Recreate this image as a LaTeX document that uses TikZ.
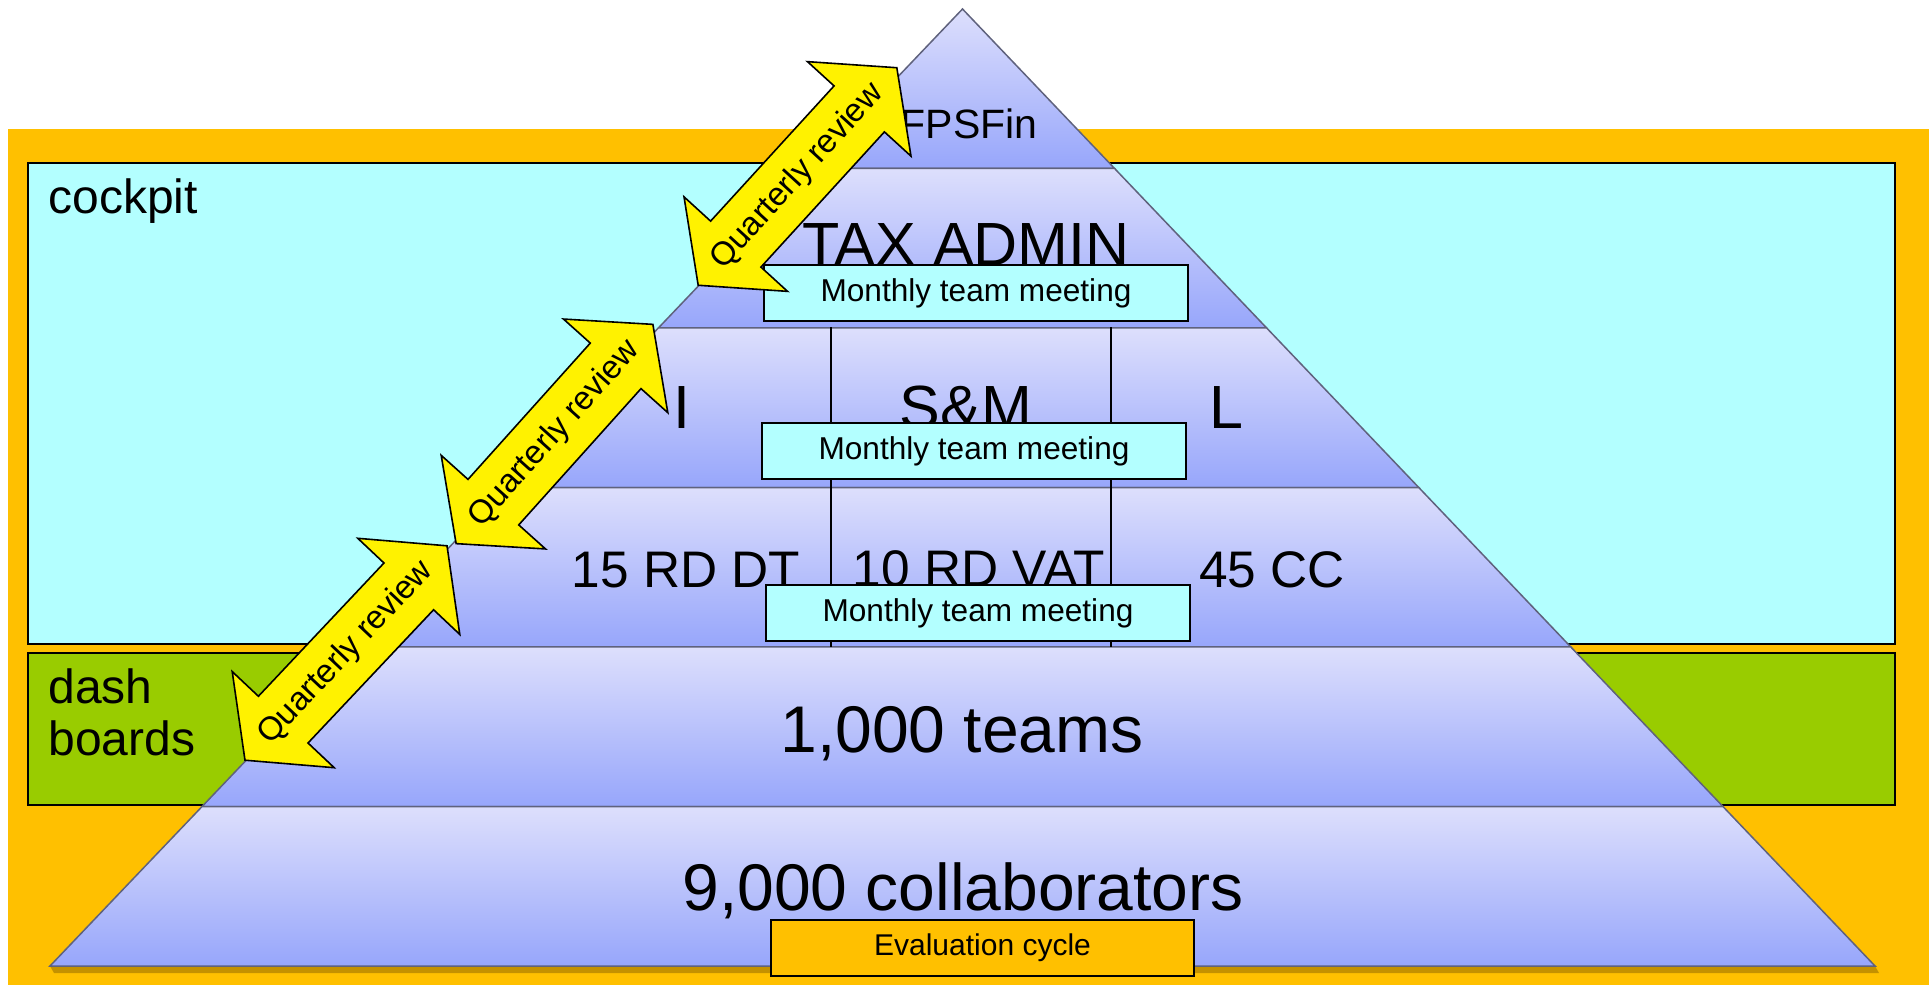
\documentclass[tikz,border=0pt]{standalone}
\usepackage{fontspec}
\setmainfont{Liberation Sans}
\usetikzlibrary{calc,shapes.arrows}

\definecolor{fondorange}{RGB}{255,192,0}
\definecolor{cockpitcyan}{RGB}{179,255,255}
\definecolor{dashvert}{RGB}{153,204,0}
\definecolor{pyrhaut}{RGB}{221,223,252}
\definecolor{pyrbas}{RGB}{151,166,251}
\definecolor{pyrbord}{RGB}{95,98,125}
\definecolor{ombre}{RGB}{196,145,0}

\begin{document}
\begin{tikzpicture}[x=0.5pt,y=-0.5pt,
	reunion/.style={draw,line width=1pt,fill=cockpitcyan,minimum width=212pt,minimum height=28pt,inner sep=0pt,font=\fontsize{15.8}{18}\selectfont},
	revue/.style={shape=double arrow,draw,line width=0.8pt,fill=yellow,minimum width=69.5pt,double arrow head extend=18pt,double arrow tip angle=103,inner xsep=0pt,inner ysep=9pt,font=\fontsize{16.4}{19}\selectfont},
	grand/.style={anchor=base,font=\fontsize{30.5}{34}\selectfont},
	moyen/.style={anchor=base,font=\fontsize{25.7}{30}\selectfont},
	enorme/.style={anchor=base,font=\fontsize{33}{38}\selectfont}]

\useasboundingbox (0,0) rectangle (1932,985);

\fill[fondorange] (8,129) rectangle (1929,985);
\draw[line width=1pt,fill=cockpitcyan] (28,163) rectangle (1895,644);
\draw[line width=1pt,fill=dashvert] (28,653) rectangle (1895,805);

\coordinate (sommet) at (962.5,9);
\coordinate (basg) at (50,966);
\coordinate (basd) at (1875,966);

\fill[ombre] (basg) -- (basd) -- (1879,973) -- (54,973) -- cycle;

\foreach \i [evaluate=\i as \ta using \i/6, evaluate=\i as \tb using (\i+1)/6] in {0,...,5} % etages de la pyramide
{
	\shadedraw[top color=pyrhaut,bottom color=pyrbas,draw=pyrbord,line width=0.75pt]
		($(sommet)!\ta!(basg)$) -- ($(sommet)!\ta!(basd)$) -- ($(sommet)!\tb!(basd)$) -- ($(sommet)!\tb!(basg)$) -- cycle;
}

\draw[line width=0.9pt] (831,327) -- (831,647);
\draw[line width=0.9pt] (1111,327) -- (1111,647);

\node[anchor=base west,inner sep=0pt,font=\fontsize{24}{26}\selectfont] (cockpit) at (48,213) {cockpit};
\node[anchor=north west,align=left,inner sep=0pt,font=\fontsize{24}{26}\selectfont] (dash) at (48,668) {dash\\boards};

\node[anchor=base,font=\fontsize{20.5}{24}\selectfont] (fpsfin) at (969,138) {FPSFin};
\node[grand] (taxadmin) at (966,265) {TAX ADMIN};
\node[grand] (unitI) at (682,428) {I};
\node[grand] (unitSM) at (966,428) {S\&M};
\node[grand] (unitL) at (1226,428) {L};
\node[moyen] (rddt) at (686,587) {15 RD DT};
\node[moyen] (rdvat) at (979,586) {10 RD VAT};
\node[moyen] (cc) at (1272,587) {45 CC};
\node[enorme] (teams) at (962,752) {1,000 teams};
\node[enorme] (collab) at (963,910) {9,000 collaborators};

\node[reunion] (reunion1) at (976,293) {Monthly team meeting};
\node[reunion] (reunion2) at (974,451) {Monthly team meeting};
\node[reunion] (reunion3) at (978,613) {Monthly team meeting};

\node[revue,minimum height=140pt,rotate=47.6] (revue1) at (797.5,176.5) {Quarterly review};
\node[revue,minimum height=138.5pt,rotate=48.1] (revue2) at (554.5,434) {Quarterly review};
\node[revue,minimum height=144.5pt,rotate=46.7] (revue3) at (346,653) {Quarterly review};

\node[reunion,fill=fondorange,minimum width=211.5pt,font=\fontsize{15}{18}\selectfont] (evaluation) at (982.5,948) {Evaluation cycle};

\end{tikzpicture}
\end{document}
